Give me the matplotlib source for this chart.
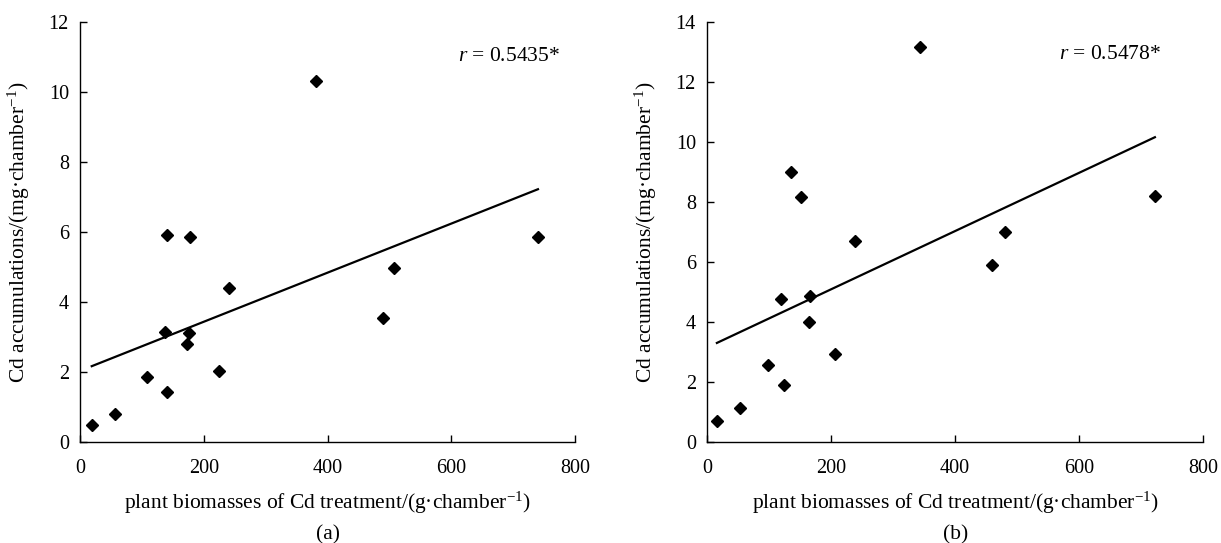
import numpy as np
import matplotlib
matplotlib.use("Agg")
import matplotlib.pyplot as plt

plt.rcParams['font.family'] = ['Liberation Serif', 'DejaVu Serif']
plt.rcParams['mathtext.fontset'] = 'custom'
plt.rcParams['mathtext.rm'] = 'Liberation Serif'
plt.rcParams['mathtext.it'] = 'Liberation Serif:italic'

# Panel (a) data
biomass_a = [19, 57, 109, 140, 137, 140, 177, 173, 176, 225, 241, 381, 490, 508, 740]
cd_a = [0.49, 0.81, 1.87, 1.43, 3.15, 5.91, 5.86, 2.81, 3.12, 2.02, 4.39, 10.3, 3.54, 4.97, 5.86]
r_a = "0.5435*"

# Panel (b) data
biomass_b = [16, 53, 99, 124, 119, 135, 151, 166, 164, 206, 239, 343, 460, 481, 722]
cd_b = [0.69, 1.12, 2.56, 1.89, 4.78, 9.0, 8.15, 4.88, 4.0, 2.94, 6.71, 13.18, 5.9, 6.99, 8.19]
r_b = "0.5478*"

xticks = [0, 200, 400, 600, 800]
yticks_a = [0, 2, 4, 6, 8, 10, 12]
yticks_b = [0, 2, 4, 6, 8, 10, 12, 14]

xlabel = r"plant biomasses of Cd treatment/(g·chamber$^{-1}$)"
ylabel = r"Cd accumulations/(mg·chamber$^{-1}$)"

fig = plt.figure(figsize=(12.21, 5.43), dpi=100)
ax1 = fig.add_axes([0.0655, 0.186, 0.4055, 0.7735])
ax2 = fig.add_axes([0.579, 0.186, 0.4065, 0.7735])

TFS = 14.5
LFS = 15.5

def draw(ax, x, y, yticks, rtxt, panel, rx, ry):
    x = np.array(x); y = np.array(y)
    ax.plot(x, y, linestyle='none', marker='D', markersize=6.2, color='black')
    k, b = np.polyfit(x, y, 1)
    xs = np.array([x.min(), x.max()])
    ax.plot(xs, k * xs + b, color='black', linewidth=1.6)
    ax.set_xlim(0, 800)
    ax.set_ylim(0, yticks[-1])
    ax.set_xticks(xticks)
    ax.set_yticks(yticks)
    for s in ['top', 'right']:
        ax.spines[s].set_visible(False)
    for s in ['left', 'bottom']:
        ax.spines[s].set_linewidth(1.0)
    ax.tick_params(axis='x', direction='in', length=5, width=1.0, labelsize=TFS, pad=12)
    ax.tick_params(axis='y', direction='in', length=5, width=1.0, labelsize=TFS, pad=8)
    ax.set_xlabel(xlabel, fontsize=LFS, labelpad=9)
    ax.set_ylabel(ylabel, fontsize=LFS, labelpad=12)
    ax.text(rx, ry, r"$\it{r}$ = " + rtxt, fontsize=LFS, ha='left', va='center')
    ax.text(0.5, -0.22, panel, transform=ax.transAxes, fontsize=LFS, ha='center', va='center')

draw(ax1, biomass_a, cd_a, yticks_a, r_a, "(a)", 610, 11.0)
draw(ax2, biomass_b, cd_b, yticks_b, r_b, "(b)", 567, 12.9)

fig.savefig("out.png", dpi=100)
